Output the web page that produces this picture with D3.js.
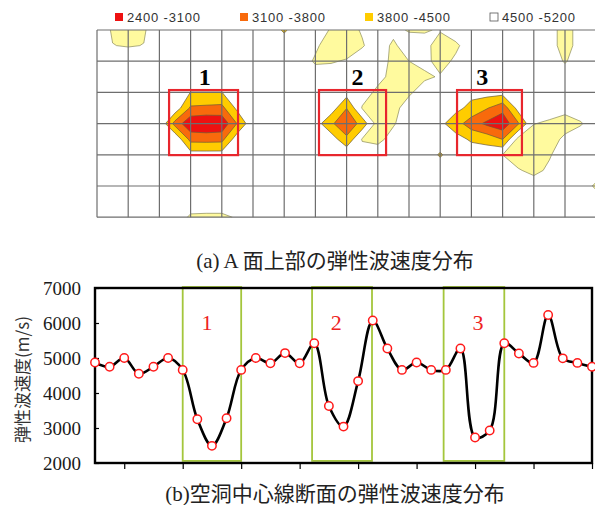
<!DOCTYPE html>
<html>
<head>
<meta charset="utf-8">
<script src="https://cdn.jsdelivr.net/npm/d3@7"></script>
<style>
  body { margin: 0; background: #fff; }
  svg { display: block; }
</style>
</head>
<body>
<div id="figure"></div>
<script>
// ---------------- data ----------------

// (a) legend
const legendLabels = ['2400 -3100', '3100 -3800', '3800 -4500', '4500 -5200']
const legendColors = ['#ee1111', '#f86a0c', '#ffcc00', '#ffffff']
const bandLevels = [4500, 3800, 3100]       // fill below each level
const bandColors = ['#ffcc00', '#f86a0c', '#ee1111']
const highLevel = 5200                       // pale band above this
const highColor = '#fffa9e'

// (a) velocity read at half-cell nodes, 33 columns x 13 rows (m/s)
const W = 4900
const gridA = [
  [W, 5250, 5600, 5250, W, W, W, W, W, W, W, W, 4400, W, W, 5250, 5400, 5150, W, 5050, 5250, 5250, 5150, W, W, W, W, W, W, W, 5500, W, W],
  [W, 5190, 5230, 5190, W, W, W, W, W, W, W, W, W, W, 5100, 5500, 5500, 5250, W, 5300, W, 5000, 5500, 5300, W, W, W, W, W, W, 5500, W, W],
  [W, W, W, W, W, W, W, W, W, W, W, W, W, W, 5280, 5250, 5150, W, W, 5350, 5200, 5050, 5400, 5100, W, W, W, W, W, W, 5250, W, W],
  [W, W, W, W, W, W, W, W, W, W, W, W, W, W, W, W, W, W, 5000, 5400, 5400, 5300, 5150, W, W, W, W, W, W, W, W, W, W],
  [W, W, W, W, W, W, 4490, 4490, 4490, W, W, W, W, W, W, W, 4800, W, 5350, 5450, 5300, W, W, W, 4680, 4780, 4760, W, W, W, W, W, W],
  [W, W, W, W, W, 4950, 3700, 3650, 3600, 4680, W, W, W, W, W, W, 3820, 5250, 5450, 5400, W, W, W, 4680, 4320, 3850, 3335, 4770, W, W, 5050, W, W],
  [W, W, W, W, 5100, 3550, 2550, 2450, 2550, 3850, 5030, W, W, W, 4850, 3920, 3300, 4050, 5500, 5250, W, W, 4670, 4120, 3420, 2950, 2600, 3720, 5180, 5300, 5400, 5250, W],
  [W, W, W, W, W, 5100, 3570, 3550, 3580, 4930, W, W, W, W, W, W, 3950, 5250, 5350, 5000, W, W, W, 4750, 4400, 4220, 3780, 5400, 5500, 5400, 5100, W, W],
  [W, W, W, W, W, W, 4800, 4800, 4800, W, W, W, W, W, W, W, 5100, W, W, W, W, W, 4420, W, W, 4970, 5200, 5500, 5500, 5250, W, W, W],
  [W, W, W, W, W, W, W, W, W, W, W, W, W, W, W, W, W, W, W, W, W, W, W, W, W, W, W, 5150, 5350, 5100, W, W, W],
  [W, W, W, W, W, W, W, W, W, W, W, W, W, W, W, W, W, W, W, W, W, W, W, W, W, W, W, W, W, W, W, W, 5300],
  [W, W, W, W, W, W, W, W, W, W, W, W, W, W, W, W, W, W, W, W, W, W, W, W, W, W, W, W, W, W, W, W, W],
  [W, W, W, W, W, W, 5280, 5300, 5300, 5150, W, W, W, W, W, W, W, W, W, W, W, W, W, W, W, W, W, W, W, W, W, W, W]
]
// (a) cavity boxes in node units [x0, x1], rows [y0, y1]
const boxesA = [[4.62, 9.04], [14.23, 18.53], [23.08, 27.24]]
const boxRowsA = [3.85, 8.02]
const labelXA = [6.9, 16.7, 24.7]
const labelTexts = ['1', '2', '3']

// (b) velocity along the cavity centre line (m/s)
const velocityB = [4870, 4750, 5000, 4550, 4750, 5000, 4660, 3250, 2490, 3280, 4660, 5000, 4850, 5140, 4850,
  5420, 3630, 3040, 4340, 6070, 5270, 4660, 4870, 4660, 4660, 5270, 2730, 2930, 5420, 5130, 4860, 6230, 4990, 4860, 4750]
const yTicksB = [2000, 3000, 4000, 5000, 6000, 7000]
const xTicksB = [2, 6, 10, 14, 18, 22, 26, 30, 34]
const boxesB = [[6, 10], [14.85, 18.95], [23.85, 28]]
const labelXB = [7.66, 16.5, 26.2]

// ---------------- figure ----------------

const width = 595, height = 505
const svg = d3.select('#figure').append('svg').attr('width', width).attr('height', height).attr('style', 'background:white')

/**
 * (a) contour map
 */
const nx = gridA[0].length, ny = gridA.length
const xA = d3.scaleLinear().domain([0, nx - 1]).range([97, 596.2])
const yA = d3.scaleLinear().domain([0, ny - 1]).range([30, 217.2])

svg.append('clipPath').attr('id', 'clipA')
  .append('rect').attr('x', 97).attr('y', 30).attr('width', 498).attr('height', 187.2)

const proj = d3.geoTransform({ point: function (x, y) { this.stream.point(xA(x - 0.5), yA(y - 0.5)) } })
const contourPath = d3.geoPath(proj)
const contourGen = d3.contours().size([nx, ny])
const flat = gridA.flat()
const negFlat = flat.map(v => -v)

let mapG = svg.append('g').attr('clip-path', 'url(#clipA)')

mapG.append('path').attr('d', contourPath(contourGen.contour(flat, highLevel)))
  .attr('fill', highColor).attr('fill-rule', 'evenodd').attr('stroke', '#8a8a5a').attr('stroke-width', 0.7)

bandLevels.forEach((lv, i) => {
  mapG.append('path').attr('d', contourPath(contourGen.contour(negFlat, -lv)))
    .attr('fill', bandColors[i]).attr('fill-rule', 'evenodd').attr('stroke', '#6a5a3a').attr('stroke-width', 0.7)
})

// grid lines (one per two nodes)
let gridG = svg.append('g').attr('stroke', '#6e6e6e').attr('stroke-width', 1.2)
d3.range(0, nx, 2).forEach(i => {
  gridG.append('line').attr('x1', xA(i)).attr('x2', xA(i)).attr('y1', yA(0)).attr('y2', yA(ny - 1))
})
d3.range(0, ny, 2).forEach(j => {
  gridG.append('line').attr('x1', xA(0)).attr('x2', width).attr('y1', yA(j)).attr('y2', yA(j))
})

// red boxes + numbers
boxesA.forEach((b, i) => {
  svg.append('rect').attr('x', xA(b[0])).attr('y', yA(boxRowsA[0]))
    .attr('width', xA(b[1]) - xA(b[0])).attr('height', yA(boxRowsA[1]) - yA(boxRowsA[0]))
    .attr('fill', 'none').attr('stroke', '#e8262d').attr('stroke-width', 2.2)
  svg.append('text').text(labelTexts[i]).attr('x', xA(labelXA[i])).attr('y', 85)
    .attr('text-anchor', 'middle').attr('font-family', 'Liberation Serif').attr('font-weight', 'bold')
    .attr('font-size', 24).attr('fill', '#000')
})

// legend
let legG = svg.append('g').attr('font-family', 'Liberation Sans').attr('font-size', 13).attr('fill', '#333')
legendLabels.forEach((t, i) => {
  let lx = 115 + i * 125
  legG.append('rect').attr('x', lx).attr('y', 13).attr('width', 8).attr('height', 8)
    .attr('fill', legendColors[i]).attr('stroke', i === 3 ? '#555' : 'none').attr('stroke-width', 0.8)
  legG.append('text').text(t).attr('x', lx + 12).attr('y', 21.5).attr('letter-spacing', 0.8)
})

svg.append('text').text('(a) A 面上部の弾性波速度分布')
  .attr('x', 335).attr('y', 268).attr('text-anchor', 'middle')
  .attr('font-family', 'Liberation Serif, Noto Sans CJK JP').attr('font-size', 21).attr('fill', '#222')

/**
 * (b) line chart
 */
const xB = d3.scaleLinear().domain([0, velocityB.length - 1]).range([95, 592])
const yB = d3.scaleLinear().domain([2000, 7000]).range([463, 288])

let axG = svg.append('g')
let yAxis = axG.append('g').attr('transform', `translate(${xB(0)},0)`)
  .call(d3.axisLeft(yB).tickValues(yTicksB).tickFormat(d3.format('d')).tickSizeInner(-4).tickSizeOuter(0).tickPadding(14))
yAxis.select('.domain').remove()
yAxis.selectAll('line').attr('stroke', '#000').attr('stroke-width', 1.2)
yAxis.selectAll('text').attr('font-family', 'Liberation Serif').attr('font-size', 19).attr('fill', '#1a1a1a')

let xAxis = axG.append('g').attr('transform', `translate(0,${yB(2000)})`)
  .call(d3.axisBottom(xB).tickValues(xTicksB).tickFormat('').tickSizeInner(6).tickSizeOuter(0))
xAxis.select('.domain').remove()
xAxis.selectAll('line').attr('stroke', '#000').attr('stroke-width', 1.2)

// green cavity boxes
boxesB.forEach((b, i) => {
  svg.append('rect').attr('x', xB(b[0])).attr('y', yB(7000) - 1)
    .attr('width', xB(b[1]) - xB(b[0])).attr('height', yB(2060) - yB(7000) + 1)
    .attr('fill', 'none').attr('stroke', '#a4c63c').attr('stroke-width', 1.8)
  svg.append('text').text(labelTexts[i]).attr('x', xB(labelXB[i])).attr('y', yB(6000) + 7)
    .attr('text-anchor', 'middle').attr('font-family', 'Liberation Serif')
    .attr('font-size', 22).attr('fill', '#ee2222')
})

// frame
svg.append('rect').attr('x', xB(0)).attr('y', yB(7000)).attr('width', xB(34) - xB(0)).attr('height', yB(2000) - yB(7000))
  .attr('fill', 'none').attr('stroke', '#000').attr('stroke-width', 2.4)

const line = d3.line().x((d, i) => xB(i)).y(d => yB(d)).curve(d3.curveCatmullRom.alpha(0.5))
svg.append('path').datum(velocityB).attr('d', line)
  .attr('fill', 'none').attr('stroke', '#000').attr('stroke-width', 2.6)

svg.append('g').selectAll('circle').data(velocityB).enter().append('circle')
  .attr('cx', (d, i) => xB(i)).attr('cy', d => yB(d)).attr('r', 4.2)
  .attr('fill', '#fff').attr('stroke', '#ff1a1a').attr('stroke-width', 1.5)

svg.append('text').text('弾性波速度(m/s)')
  .attr('transform', `translate(21,${(yB(2000) + yB(7000)) / 2 + 4}) rotate(-90)`)
  .attr('text-anchor', 'middle').attr('dominant-baseline', 'central')
  .attr('font-family', 'Noto Sans CJK JP').attr('font-size', 17).attr('fill', '#333')

svg.append('text').text('(b)空洞中心線断面の弾性波速度分布')
  .attr('x', 335).attr('y', 501).attr('text-anchor', 'middle')
  .attr('font-family', 'Liberation Serif, Noto Sans CJK JP').attr('font-size', 21).attr('fill', '#222')
</script>
</body>
</html>
